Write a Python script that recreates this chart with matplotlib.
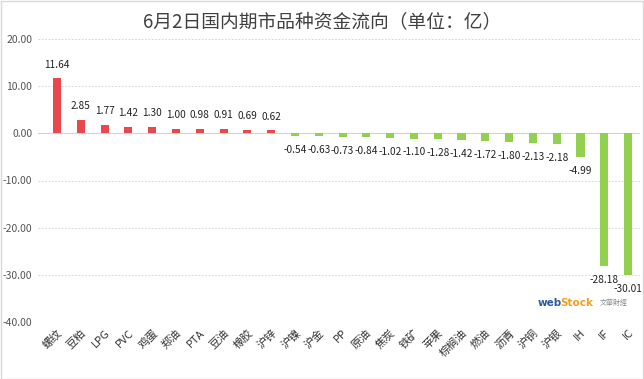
import matplotlib
matplotlib.use("Agg")
import matplotlib.pyplot as plt
from matplotlib.patches import Rectangle

plt.rcParams['font.family'] = ['Noto Sans CJK SC', 'DejaVu Sans']

categories = ["螺纹", "豆粕", "LPG", "PVC", "鸡蛋", "郑油", "PTA", "豆油", "橡胶", "沪锌",
              "沪镍", "沪金", "PP", "原油", "焦炭", "铁矿", "苹果", "棕榈油", "燃油", "沥青",
              "沪铜", "沪银", "IH", "IF", "IC"]
values = [11.64, 2.85, 1.77, 1.42, 1.30, 1.00, 0.98, 0.91, 0.69, 0.62,
          -0.54, -0.63, -0.73, -0.84, -1.02, -1.10, -1.28, -1.42, -1.72, -1.80,
          -2.13, -2.18, -4.99, -28.18, -30.01]
yticks = [20, 10, 0, -10, -20, -30, -40]

RED = "#E8474B"
GREEN = "#92D050"

fig = plt.figure(figsize=(6.44, 3.79), dpi=100)
ax = fig.add_axes([38/644, 1-322/379, (640-38)/644, (322-39)/379])

x = list(range(len(categories)))
colors = [RED if v >= 0 else GREEN for v in values]
ax.bar(x, values, width=0.34, color=colors, zorder=3)

for xi, v in zip(x, values):
    off = 10 if v >= 0 else -10
    ax.annotate(f"{v:.2f}", (xi, v), xytext=(0, off), textcoords="offset points",
                ha="center", va="center", fontsize=7.3, color="#222222")

ax.set_ylim(-40, 20)
ax.set_xlim(-0.8, 24.5)
ax.set_yticks(yticks)
ax.set_yticklabels([f"{t:.2f}" for t in yticks], fontsize=7.5, color="#555555")
ax.set_xticks(x)
ax.set_xticklabels(categories, rotation=45, ha="right", rotation_mode="anchor",
                   fontsize=8, color="#333333")
ax.tick_params(axis="both", length=0)
ax.tick_params(axis="y", pad=4)
ax.tick_params(axis="x", pad=4)
for s in ax.spines.values():
    s.set_visible(False)
ax.yaxis.grid(True, linestyle=(0, (2, 2)), color="#D0D0D0", linewidth=0.6, zorder=0)
ax.axhline(0, color="#D5D5D5", linewidth=0.8, zorder=1)

fig.text(0.5, 1-22/379, "6月2日国内期市品种资金流向（单位：亿）", ha="center", va="center",
         fontsize=13.5, color="#404040")

# watermark logo
fig.text(538/644, 1-303/379, "web", fontsize=7.5, fontweight="bold", color="#2B5A9B",
         ha="left", va="center", family="DejaVu Sans")
fig.text(560/644, 1-303/379, "Stock", fontsize=7.5, fontweight="bold", color="#F0A020",
         ha="left", va="center", family="DejaVu Sans")
fig.text(600/644, 1-303/379, "文華財經", fontsize=5, color="#888888",
         ha="left", va="center", family=["Noto Sans CJK TC", "DejaVu Sans"])

# figure border
fig.patches.append(Rectangle((0.001, 0.001), 0.997, 0.997, transform=fig.transFigure,
                             fill=False, edgecolor="#D9D9D9", linewidth=1))

fig.savefig("out.png", dpi=100)
